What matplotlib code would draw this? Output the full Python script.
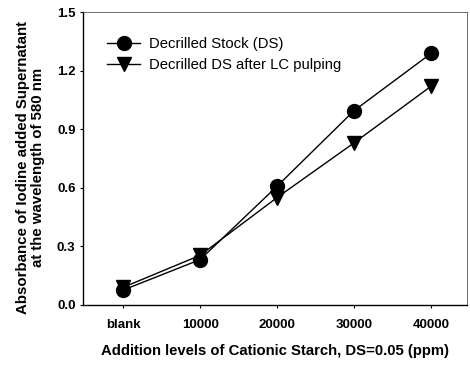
import matplotlib
matplotlib.use("Agg")
import matplotlib.pyplot as plt

categories = ["blank", "10000", "20000", "30000", "40000"]
stock_ds = [0.076, 0.232, 0.608, 0.995, 1.288]
ds_after_lc = [0.09, 0.254, 0.55, 0.83, 1.12]
y_ticks = [0.0, 0.3, 0.6, 0.9, 1.2, 1.5]

plt.rcParams['font.family'] = ['Liberation Sans', 'DejaVu Sans']

fig = plt.figure(figsize=(4.7, 3.66), dpi=100)
ax = fig.add_axes([0.177, 0.167, 0.817, 0.80])

x = list(range(len(categories)))
ax.plot(x, stock_ds, color='black', lw=1.0, marker='o', ms=10,
        label='Decrilled Stock (DS)')
ax.plot(x, ds_after_lc, color='black', lw=1.0, marker='v', ms=10,
        label='Decrilled DS after LC pulping')

ax.set_xlim(-0.52, 4.47)
ax.set_ylim(0, 1.5)
ax.set_xticks(x)
ax.set_xticklabels(categories, fontsize=9.5, fontweight='bold')
ax.set_yticks(y_ticks)
ax.set_yticklabels([f"{v:.1f}" for v in y_ticks], fontsize=9.5, fontweight='bold')
ax.tick_params(axis='x', length=2.5, width=0.8, pad=8)
ax.tick_params(axis='y', length=2.5, width=0.8, pad=3)

for s in ['top', 'right']:
    ax.spines[s].set_linewidth(0.6)
    ax.spines[s].set_color('#555555')
for s in ['left', 'bottom']:
    ax.spines[s].set_linewidth(1.0)

ax.set_xlabel('Addition levels of Cationic Starch, DS=0.05 (ppm)',
              fontsize=10.7, fontweight='bold', labelpad=9)
ax.set_ylabel('Absorbance of Iodine added Supernatant\nat the wavelength of 580 nm',
              fontsize=10.8, fontweight='bold', linespacing=1.05)
ax.yaxis.set_label_coords(-0.10, 0.47)

leg = ax.legend(loc='upper left', bbox_to_anchor=(0.047, 0.935), frameon=False,
                fontsize=10.7, handlelength=2.2, handletextpad=0.6,
                labelspacing=0.5, borderaxespad=0)

fig.savefig('out.png', dpi=100)
